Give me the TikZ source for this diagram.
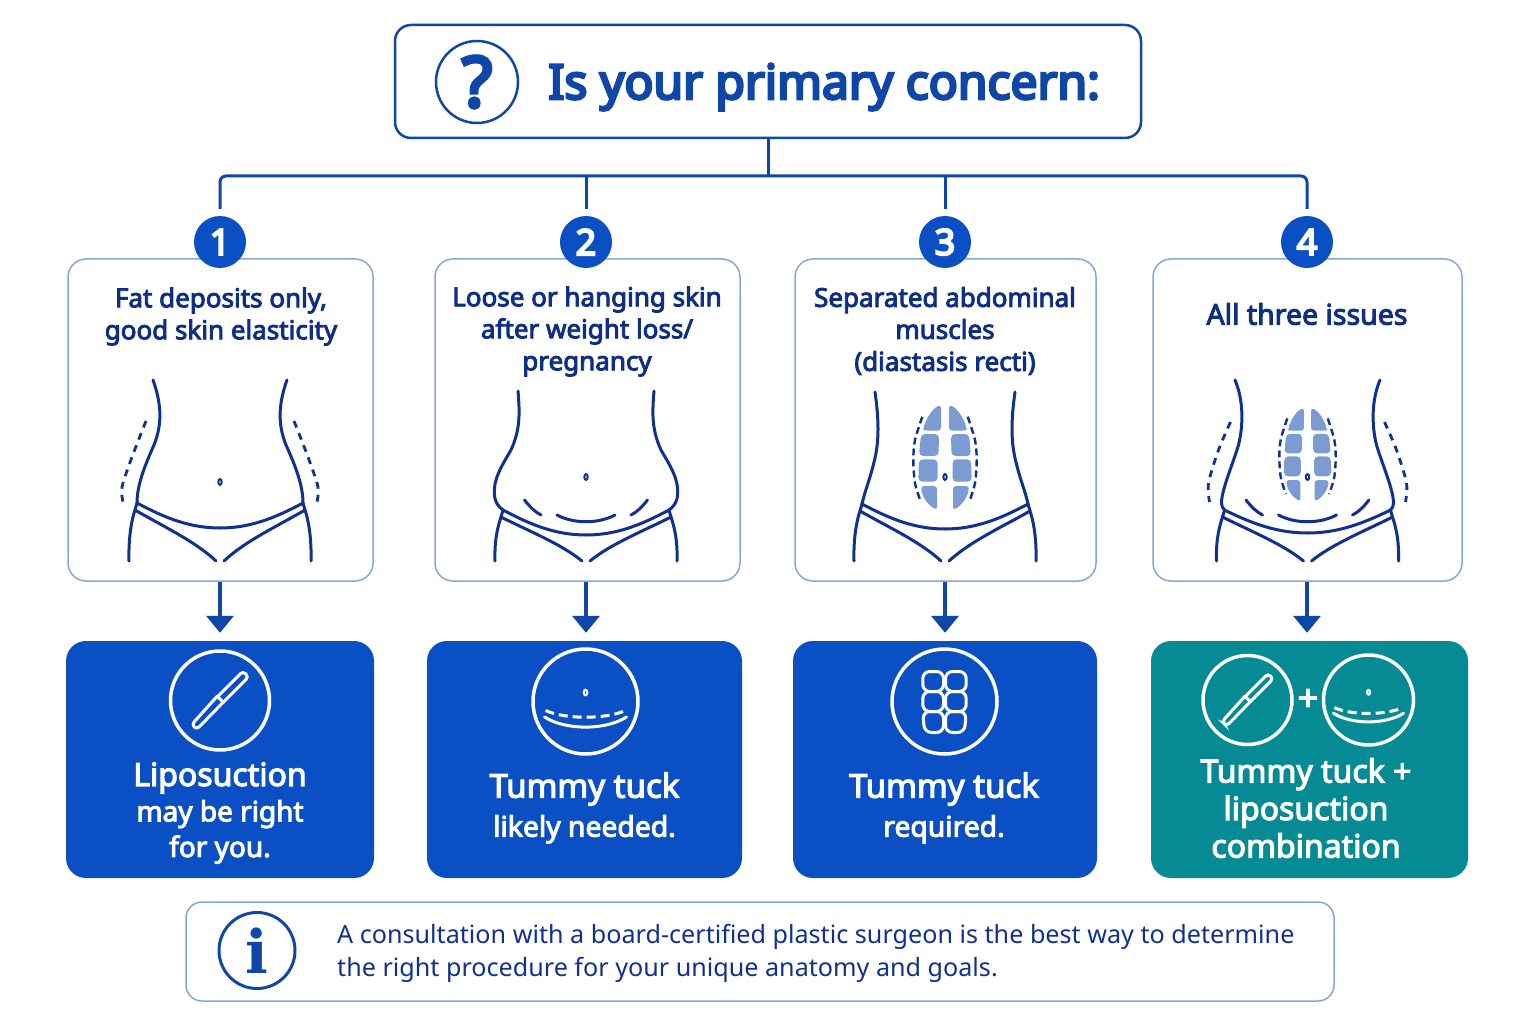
\documentclass[tikz,border=0pt]{standalone}
\usepackage{fontspec}
\setmainfont{Noto Sans}
\newfontfamily\semibf{Noto Sans}[FakeBold=3.5]
\newfontfamily\headbf{Noto Sans}[FakeBold=5.5]
\newfontfamily\serifi{DejaVu Serif}
\usetikzlibrary{arrows.meta}
\definecolor{linkblue}{HTML}{0F47A8}
\definecolor{navy}{HTML}{12308F}
\definecolor{inkblue}{HTML}{0E2F84}
\definecolor{softblue}{HTML}{8AA5DA}
\definecolor{absblue}{HTML}{7D9BD3}
\definecolor{fillblue}{HTML}{0B4FC4}
\definecolor{fillteal}{HTML}{068A94}
\tikzset{
  card/.style={draw=softblue,line width=1.5pt,rounded corners=18pt,fill=white,minimum height=322pt},
  result/.style={fill=#1,rounded corners=20pt,minimum height=237pt},
  badge/.style={circle,fill=fillblue,text=white,minimum size=52pt,inner sep=0pt,font=\headbf\fontsize{36}{36}\selectfont},
  cardtext/.style={text=inkblue,align=center,font=\semibf\fontsize{26}{32}\selectfont},
  restext/.style={text=white,align=center,inner sep=0pt},
  busline/.style={linkblue,line width=3pt},
  droparrow/.style={linkblue,line width=3.5pt,shorten >=8pt,-{Triangle[width=27pt,length=17pt]}},
  body/.style={navy,line width=3pt,line cap=round},
  flank/.style={navy,line width=2.8pt,dash pattern=on 7pt off 6pt},
  iconring/.style={circle,draw=white,line width=3.5pt,inner sep=0pt},
  iconline/.style={white,line width=3pt,line cap=round},
  scalpelicon/.pic={
    \begin{scope}[rotate=45]
      \draw[iconline,rounded corners=3.5pt] (1,-4.5) -- (37,-4.5) -- (37,3.5) -- (1,3.5);
      \draw[iconline,rounded corners=3.5pt] (1,-5) -- (-37,-3) -- (-37,4) -- (1,3.5);
      \draw[iconline] (1,-5) -- (1,3.5);
    \end{scope}
  },
  tuckicon/.pic={
    \draw[white,line width=2pt] (0,-9) ellipse (1.8 and 2.8);
    \draw[iconline,dash pattern=on 9pt off 5pt,line cap=butt] (-40,9) .. controls (-20,18) and (20,18) .. (40,9);
    \draw[iconline] (-41,15.5) .. controls (-20,29) and (20,29) .. (41,15.5);
  },
  sixpackicon/.pic={
    \foreach \s in {1,-1}{
      \begin{scope}[xscale=\s]
        \draw[iconline,rounded corners=7pt] (-1,-30) -- (-21.7,-30) -- (-21.7,-10) -- (-1,-10) -- cycle;
        \draw[iconline,rounded corners=7pt] (-1,-10) -- (-21.7,-10) -- (-21.7,10) -- (-1,10) -- cycle;
        \draw[iconline,rounded corners=7pt] (-1,10) -- (-21.7,10) -- (-20,31) -- (-1,31) -- cycle;
      \end{scope}
    }
  },
  absblocks/.pic={
    \foreach \s in {1,-1}{
      \begin{scope}[xscale=\s]
        \fill[absblue,rounded corners=3pt] (-4,0) .. controls (-12,3) and (-18,12) .. (-22,24) -- (-21,25.5) -- (-4,25.5) -- cycle;
        \fill[absblue,rounded corners=4pt] (-6,29) -- (-24,29) -- (-26,51) -- (-6.5,51) -- cycle;
        \fill[absblue,rounded corners=4pt] (-7.5,54.3) -- (-26,54.3) -- (-26.7,76.7) -- (-7.5,76.7) -- cycle;
        \fill[absblue,rounded corners=3pt] (-8,81) -- (-24,81) .. controls (-23,92) and (-17,100) .. (-8,105) -- cycle;
        \draw[navy,line width=2.4pt,dash pattern=on 7pt off 4pt] plot[smooth] coordinates {(-22.7,11.7) (-30,35) (-31.7,55) (-30,78) (-24.3,96.7)};
      \end{scope}
    }
  },
}
% center x, side curve, band edge y, band middle y
\newcommand{\torso}[4]{
  \foreach \s in {1,-1}{
    \begin{scope}[shift={(#1,0)},xscale=\s]
      \draw[body] #2;
      \draw[body] (-83,#3) .. controls (-55,{#3+.6*(#4-#3)}) and (-30,#4) .. (0,#4);
      \draw[body] (-85,{#3+7}) .. controls (-58,{#3+7+.31*(554-#3)}) and (-25,{#3+7+.61*(554-#3)}) .. (-4,561);
      \draw[body] (-83,#3) -- (-85,{#3+7}) .. controls (-90,{#3+22}) and (-91.5,545) .. (-91,561);
    \end{scope}
  }
}
\newcommand{\navel}[2]{\draw[navy,line width=2pt] (#1,#2) ellipse (1.7 and 2.9);}
% skin folds under the belly
\newcommand{\folds}[2]{
  \draw[body] (#1-29,#2) .. controls (#1-12,{#2+9}) and (#1+12,{#2+9}) .. (#1+29,#2);
  \foreach \s in {1,-1}{
    \begin{scope}[shift={(#1,0)},xscale=\s]
      \draw[body] (-61.5,{#2-15}) .. controls (-56,{#2-8}) and (-51,{#2-3}) .. (-45,#2);
    \end{scope}
  }
}
\newcommand{\flankdash}[5]{
  \foreach \s in {1,-1}{
    \begin{scope}[shift={(#1,0)},xscale=\s]
      \draw[flank] plot[smooth] coordinates {#2 #3 #4 #5};
    \end{scope}
  }
}
\begin{document}
\begin{tikzpicture}[x=1pt,y=-1pt]
  \fill[white] (0,0) rectangle (1536,1024);
  \useasboundingbox (0,0) rectangle (1536,1024);
  % question
  \node[draw=linkblue,line width=2.5pt,rounded corners=16pt,minimum width=746pt,minimum height=113pt] (head) at (768,81.5) {};
  \node[circle,draw=linkblue,line width=2.5pt,minimum size=82pt,inner sep=0pt,text=linkblue,font=\headbf\fontsize{70}{70}\selectfont] (ask) at (477,82) {?};
  \node[anchor=base west,text=linkblue,inner sep=0pt,font=\headbf\fontsize{48}{48}\selectfont] (asktext) at (548,99) {Is your primary concern:};
  % cards
  \node[card,minimum width=305pt] (card1) at (220.5,420) {};
  \node[card,minimum width=305pt] (card2) at (587.5,420) {};
  \node[card,minimum width=301pt] (card3) at (945.5,420) {};
  \node[card,minimum width=309pt] (card4) at (1307.5,420) {};
  \node[badge] (badge1) at (220,242) {1};
  \node[badge] (badge2) at (586,242) {2};
  \node[badge] (badge3) at (945,242) {3};
  \node[badge] (badge4) at (1307,242) {4};
  \node[cardtext] (label1) at (221,316.5) {Fat deposits only,\\good skin elasticity};
  \node[cardtext] (label2) at (587,331.5) {Loose or hanging skin\\after weight loss/\\pregnancy};
  \node[cardtext] (label3) at (945,331) {Separated abdominal\\muscles\\(diastasis recti)};
  \node[cardtext,font=\semibf\fontsize{28.5}{32}\selectfont] (label4) at (1307,314) {All three issues};
  % results
  \node[result=fillblue,minimum width=308pt] (result1) at (220,759.5) {};
  \node[result=fillblue,minimum width=315pt] (result2) at (584.5,759.5) {};
  \node[result=fillblue,minimum width=304pt] (result3) at (945,759.5) {};
  \node[result=fillteal,minimum width=317pt] (result4) at (1309.5,759.5) {};
  % tree
  \coordinate (bus) at (768,176);
  \draw[busline] (head.south) -- (bus);
  \draw[busline,rounded corners=6pt,shorten >=7pt] (bus) -| (badge1.north);
  \draw[busline,rounded corners=6pt,shorten >=7pt] (bus) -| (badge4.north);
  \draw[busline,shorten >=7pt] (badge2 |- bus) -- (badge2.north);
  \draw[busline,shorten >=7pt] (badge3 |- bus) -- (badge3.north);
  \foreach \i in {1,2,3,4}{
    \draw[droparrow] (badge\i |- card\i.south) -- (badge\i |- result\i.north);
  }
  % bodies
  \torso{220}{(-67,380) .. controls (-58,405) and (-58,425) .. (-66,445) .. controls (-75,465) and (-83,485) .. (-83,503)}{503}{528}
  \flankdash{220}{(-74,421)}{(-88,457)}{(-98,487)}{(-97,502)}
  \navel{220}{482}
  \torso{586}{(-68,391) .. controls (-66,415) and (-66,430) .. (-75,450) .. controls (-85,467) and (-93,480) .. (-91.5,495) .. controls (-91,503) and (-87,507) .. (-83,510)}{510}{535}
  \folds{586}{515}
  \navel{586}{477}
  \torso{945}{(-70,392) .. controls (-66,420) and (-66,440) .. (-70,458) .. controls (-75,480) and (-80,490) .. (-83,504)}{504}{529}
  \pic at (945,405) {absblocks};
  \navel{945}{477}
  \torso{1307.5}{(-72.5,380) .. controls (-64,400) and (-64,425) .. (-69,445) .. controls (-75,465) and (-86,490) .. (-86,503) .. controls (-86,506) and (-85,508) .. (-83,510)}{510}{533}
  \flankdash{1307.5}{(-77,422)}{(-89,450)}{(-99,483)}{(-98,502)}
  \folds{1307.5}{515}
  \pic[scale=.89] at (1307.5,408) {absblocks};
  \navel{1307.5}{477}
  % icons
  \node[iconring,minimum size=99pt] (ring1) at (220,700.5) {};
  \pic at (ring1) {scalpelicon};
  \node[iconring,minimum size=105pt] (ring2) at (585.5,701.5) {};
  \pic at (ring2) {tuckicon};
  \node[iconring,minimum size=105pt] (ring3) at (944.5,701.5) {};
  \pic at (ring3) {sixpackicon};
  \node[iconring,minimum size=89pt] (ring4) at (1247.5,700) {};
  \pic[scale=.9] at (ring4) {scalpelicon};
  \node[iconring,minimum size=90pt] (ring5) at (1368.5,700) {};
  \pic[scale=.854] at (ring5) {tuckicon};
  \node[text=white,inner sep=0pt,font=\semibf\fontsize{36}{36}\selectfont] (plus) at (1308,700) {+};
  % result texts
  \node[restext,font=\semibf\fontsize{28}{35.5}\selectfont] (out1) at (220,813) {{\fontsize{32}{36}\selectfont Liposuction}\\may be right\\for you.};
  \node[restext,font=\semibf\fontsize{28.3}{39}\selectfont] (out2) at (584.5,808) {{\fontsize{33}{39}\selectfont Tummy tuck}\\likely needed.};
  \node[restext,font=\semibf\fontsize{28.3}{39}\selectfont] (out3) at (944,808) {{\fontsize{33}{39}\selectfont Tummy tuck}\\required.};
  \node[restext,font=\semibf\fontsize{32}{37.5}\selectfont] (out4) at (1306,808) {Tummy tuck +\\liposuction\\combination};
  % note
  \node[draw=softblue,line width=1.5pt,rounded corners=16pt,minimum width=1148pt,minimum height=99pt] (note) at (760,951.5) {};
  \node[circle,draw=linkblue,line width=3pt,minimum size=76pt,inner sep=0pt,text=linkblue,font=\serifi\fontsize{60}{60}\selectfont\bfseries] (infosign) at (257,950.5) {i};
  \node[anchor=west,text=navy,align=left,inner sep=0pt,font=\fontsize{25.15}{33}\selectfont] (notetext) at (337,953) {A consultation with a board-certified plastic surgeon is the best way to determine\\the right procedure for your unique anatomy and goals.};
\end{tikzpicture}
\end{document}
